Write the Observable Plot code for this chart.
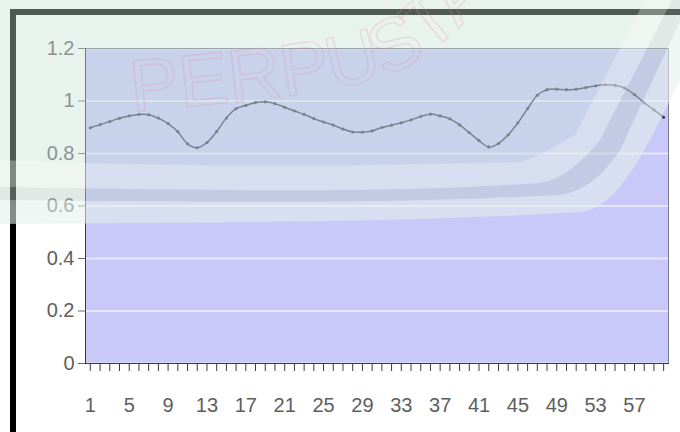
<!DOCTYPE html>
<html>
<head>
<meta charset="utf-8">
<script src="https://cdn.jsdelivr.net/npm/d3@7"></script>
<script src="https://cdn.jsdelivr.net/npm/@observablehq/plot@0.6"></script>
<style>
  html, body { margin: 0; padding: 0; background: #ffffff; }
  #wrap { position: relative; width: 680px; height: 432px; overflow: hidden; background: #ffffff; }
  .edge { position: absolute; background: #000000; }
  #chart { position: absolute; left: 0; top: 0; }
  #wash { position: absolute; left: 0; top: 0; pointer-events: none; }
</style>
</head>
<body>
<div id="wrap">
  <div class="edge" style="left:10px; top:9px; width:670px; height:6px;"></div>
  <div class="edge" style="left:10px; top:9px; width:6px; height:423px;"></div>
  <div id="chart"></div>
  <svg id="wash" width="680" height="432" viewBox="0 0 680 432">
    <defs>
      <path id="arcText" d="M132,112 C 250,100 340,95 400,70 C 440,50 470,20 520,-40"/>
    </defs>
    <!-- library stamp: tinted bowl with soft light rings -->
    <path d="M0,0 L0,224 C 300,222 400,222 580,212 C 600,210 620,195 650,140 L720,0 Z" fill="rgba(200,225,212,0.40)"/>
    <path d="M0,160 C 150,166 300,168 520,162 C 545,155 565,140 575,135 L645,0 L672,0 L600,140 C 580,165 560,180 540,183 C 400,192 300,192 0,187 Z" fill="rgba(255,255,255,0.28)"/>
    <path d="M0,187 C 300,192 400,192 540,183 C 560,180 580,165 600,140 L672,0 L690,0 L620,150 C 600,180 580,192 560,195 C 400,203 300,203 0,200 Z" fill="rgba(150,150,170,0.10)"/>
    <path d="M0,200 C 300,203 400,203 560,195 C 580,192 600,180 620,150 L690,0 L720,0 L650,140 C 620,195 600,210 580,212 C 400,222 300,222 0,224 Z" fill="rgba(255,255,255,0.30)"/>
    <text font-family="'Liberation Sans Narrow', 'Liberation Sans', Arial, sans-serif" font-size="74" fill="none" stroke="rgba(225,140,165,0.28)" stroke-width="1.3">
      <textPath href="#arcText">PERPUSTAKAAN</textPath>
    </text>
  </svg>
</div>
<script>
// Category positions along the horizontal axis
const categories = [
  1, 2, 3, 4, 5, 6, 7, 8, 9, 10, 11, 12, 13, 14, 15, 16, 17, 18, 19, 20,
  21, 22, 23, 24, 25, 26, 27, 28, 29, 30, 31, 32, 33, 34, 35, 36, 37, 38, 39, 40,
  41, 42, 43, 44, 45, 46, 47, 48, 49, 50, 51, 52, 53, 54, 55, 56, 57, 58, 59, 60
];

// Measured series
const values = [
  0.898, 0.910, 0.922, 0.934, 0.943, 0.949, 0.948, 0.935, 0.914, 0.883,
  0.837, 0.822, 0.842, 0.884, 0.935, 0.971, 0.983, 0.994, 0.997, 0.990,
  0.976, 0.962, 0.949, 0.933, 0.920, 0.908, 0.893, 0.882, 0.881, 0.886,
  0.899, 0.908, 0.917, 0.928, 0.941, 0.950, 0.943, 0.932, 0.909, 0.879,
  0.849, 0.825, 0.838, 0.871, 0.917, 0.971, 1.022, 1.043, 1.045, 1.043,
  1.045, 1.051, 1.058, 1.062, 1.060, 1.049, 1.024, 0.993, 0.966, 0.938
];

// Axis tick values and labels
const yTicks = [0, 0.2, 0.4, 0.6, 0.8, 1, 1.2];
const yLabels = ["0", "0.2", "0.4", "0.6", "0.8", "1", "1.2"];
const xLabels = ["1", "5", "9", "13", "17", "21", "25", "29", "33", "37", "41", "45", "49", "53", "57"];

const data = categories.map((c, i) => ({c, v: values[i]}));

const chart = Plot.plot({
  width: 680,
  height: 432,
  marginLeft: 85,
  marginRight: 12,
  marginTop: 48,
  marginBottom: 69,
  style: {
    background: "transparent",
    fontFamily: "'Liberation Sans', Arial, sans-serif",
    fontSize: "20px",
    color: "#5e5e5e",
    overflow: "visible"
  },
  x: {type: "point", domain: categories, padding: 0.5},
  y: {domain: [0, 1.2]},
  marks: [
    Plot.frame({fill: "#c9c9f9"}),
    Plot.gridY(yTicks, {stroke: "#ffffff", strokeOpacity: 0.55, strokeWidth: 2}),
    Plot.frame({stroke: "#7c7c8c"}),
    Plot.frame({anchor: "left", stroke: "#3a3a44"}),
    Plot.frame({anchor: "bottom", stroke: "#3a3a44"}),
    Plot.axisY(yTicks, {
      label: null,
      tickSize: 7,
      tickPadding: 4,
      stroke: "#6a6a6a",
      tickFormat: (d) => yLabels[yTicks.indexOf(d)]
    }),
    Plot.axisX(categories, {
      label: null,
      tickSize: 8,
      tickPadding: 26,
      stroke: "#3a3a44",
      tickFormat: (d) => (xLabels.includes(String(d)) ? String(d) : "")
    }),
    Plot.line(data, {x: "c", y: "v", stroke: "#3e4860", strokeWidth: 1.5, curve: "catmull-rom"}),
    Plot.dot(data, {x: "c", y: "v", r: 1.6, fill: "#3e4860"})
  ]
});

document.getElementById("chart").appendChild(chart);
</script>
</body>
</html>
